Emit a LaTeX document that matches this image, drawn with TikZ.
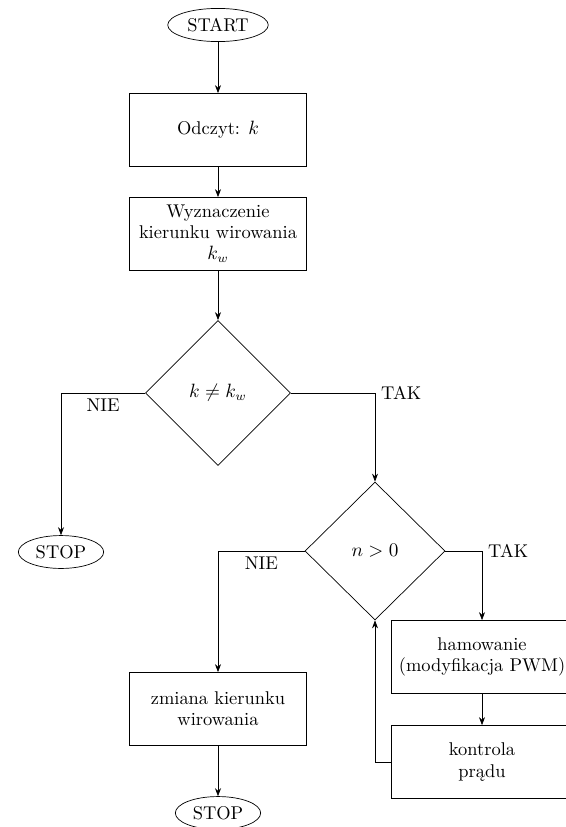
\documentclass[tikz,border=0pt]{standalone}
\usepackage{fontspec}
\usepackage{tikz}
\usetikzlibrary{arrows.meta,positioning,shapes.geometric}

\begin{document}
\begin{tikzpicture}[
    on grid,
    every node/.style={font=\fontsize{10.5pt}{12pt}\selectfont},
    term/.style={draw, ellipse, inner sep=2.8pt},
    proc/.style={draw, rectangle, minimum width=3.54cm, minimum height=1.46cm, align=center},
    decision/.style={draw, diamond, aspect=1, minimum width=2.9cm, minimum height=2.9cm, align=center},
    arr/.style={-{Stealth[length=1.6mm,width=1.2mm]}}
]
\useasboundingbox (0,0) rectangle (11.32,-16.54);
\clip (0,0) rectangle (11.32,-16.54);

\node[term] (start) at (4.36,-0.5) {START};
\node[proc, below=2.1cm of start] (odczyt) {Odczyt: $k$};
\node[proc, below=2.08cm of odczyt] (wyzn) {Wyznaczenie\\kierunku wirowania\\$k_w$};
\node[decision, below=3.18cm of wyzn] (dec1) {$k \neq k_w$};
\node[term, below left=3.18cm and 3.14cm of dec1] (stop1) {STOP};
\node[decision, minimum width=2.8cm, minimum height=2.76cm, below right=3.16cm and 3.14cm of dec1] (dec2) {$n > 0$};
\node[proc, below left=3.16cm and 3.14cm of dec2] (zmiana) {zmiana kierunku\\wirowania};
\node[term, below=2.08cm of zmiana] (stop2) {STOP};
\node[proc, minimum width=3.64cm, below right=2.12cm and 2.14cm of dec2] (hamow) {hamowanie\\(modyfikacja PWM)};
\node[proc, minimum width=3.64cm, below=2.1cm of hamow] (kontr) {kontrola\\prądu};

\draw[arr] (start) -- (odczyt);
\draw[arr] (odczyt) -- (wyzn);
\draw[arr] (wyzn) -- (dec1);
\draw[arr] (dec1.west) -| node[pos=0.25, below] {NIE} (stop1);
\draw[arr] (dec1.east) -| node[pos=0.5, right] {TAK} (dec2);
\draw[arr] (dec2.west) -| node[pos=0.25, below] {NIE} (zmiana);
\draw[arr] (dec2.east) -| node[pos=0.5, right] {TAK} (hamow);
\draw[arr] (hamow) -- (kontr);
\draw[arr] (kontr.west) -| (dec2.south);
\draw[arr] (zmiana) -- (stop2);
\end{tikzpicture}
\end{document}
